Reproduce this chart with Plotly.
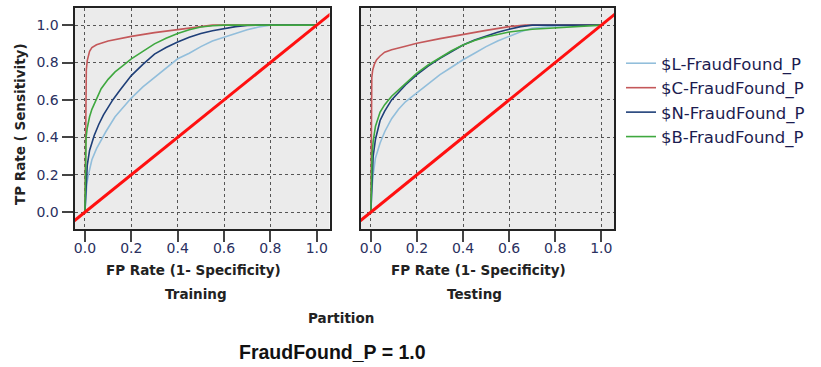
import plotly.graph_objects as go

W, H = 821, 367

# ---------------- data ----------------
series_names = ["$L-FraudFound_P", "$C-FraudFound_P", "$N-FraudFound_P", "$B-FraudFound_P"]
series_colors = ["#92bedb", "#c4585a", "#1f3f78", "#3fa83f"]

# Training partition
train_L_fpr = [0, 0.008, 0.015, 0.03, 0.05, 0.09, 0.13, 0.2, 0.25, 0.3, 0.35, 0.4, 0.45, 0.5, 0.55, 0.6, 0.65, 0.7, 0.75, 0.8, 1.0]
train_L_tpr = [0, 0.15, 0.2, 0.28, 0.34, 0.43, 0.51, 0.61, 0.67, 0.72, 0.77, 0.82, 0.85, 0.885, 0.915, 0.935, 0.955, 0.975, 0.99, 1.0, 1.0]

train_C_fpr = [0, 0.003, 0.006, 0.01, 0.015, 0.02, 0.03, 0.05, 0.1, 0.2, 0.3, 0.4, 0.5, 0.55, 1.0]
train_C_tpr = [0, 0.6, 0.76, 0.81, 0.84, 0.86, 0.88, 0.895, 0.915, 0.94, 0.96, 0.975, 0.992, 1.0, 1.0]

train_N_fpr = [0, 0.005, 0.01, 0.02, 0.04, 0.06, 0.08, 0.1, 0.12, 0.15, 0.2, 0.25, 0.3, 0.35, 0.4, 0.45, 0.5, 0.55, 0.6, 0.65, 0.7, 0.75, 1.0]
train_N_tpr = [0, 0.18, 0.25, 0.33, 0.41, 0.47, 0.52, 0.56, 0.6, 0.65, 0.73, 0.79, 0.845, 0.88, 0.91, 0.935, 0.955, 0.97, 0.982, 0.992, 0.998, 1.0, 1.0]

train_B_fpr = [0, 0.002, 0.005, 0.01, 0.02, 0.03, 0.05, 0.07, 0.1, 0.13, 0.16, 0.2, 0.25, 0.3, 0.35, 0.4, 0.45, 0.5, 0.55, 0.6, 1.0]
train_B_tpr = [0, 0.3, 0.4, 0.45, 0.51, 0.55, 0.61, 0.66, 0.71, 0.75, 0.78, 0.82, 0.86, 0.9, 0.93, 0.955, 0.975, 0.99, 0.997, 1.0, 1.0]

# Testing partition
test_L_fpr = [0, 0.003, 0.01, 0.02, 0.04, 0.06, 0.09, 0.12, 0.15, 0.2, 0.25, 0.3, 0.35, 0.4, 0.45, 0.5, 0.55, 0.6, 0.65, 0.7, 0.8, 0.9, 1.0]
test_L_tpr = [0, 0.1, 0.2, 0.29, 0.37, 0.43, 0.5, 0.55, 0.59, 0.64, 0.69, 0.735, 0.775, 0.815, 0.85, 0.885, 0.915, 0.94, 0.965, 0.983, 0.995, 0.998, 1.0]

test_C_fpr = [0, 0.002, 0.004, 0.008, 0.015, 0.025, 0.04, 0.06, 0.09, 0.15, 0.2, 0.3, 0.4, 0.5, 0.6, 0.67, 1.0]
test_C_tpr = [0, 0.4, 0.72, 0.76, 0.79, 0.815, 0.835, 0.855, 0.868, 0.887, 0.903, 0.928, 0.952, 0.972, 0.992, 1.0, 1.0]

test_N_fpr = [0, 0.002, 0.005, 0.01, 0.02, 0.04, 0.06, 0.09, 0.12, 0.15, 0.2, 0.25, 0.3, 0.35, 0.4, 0.45, 0.5, 0.55, 0.6, 0.65, 0.7, 1.0]
test_N_tpr = [0, 0.05, 0.2, 0.3, 0.39, 0.49, 0.54, 0.6, 0.64, 0.68, 0.735, 0.782, 0.823, 0.86, 0.894, 0.92, 0.943, 0.962, 0.978, 0.992, 1.0, 1.0]

test_B_fpr = [0, 0.002, 0.005, 0.01, 0.02, 0.04, 0.06, 0.09, 0.12, 0.15, 0.2, 0.25, 0.3, 0.35, 0.4, 0.45, 0.5, 0.55, 0.6, 0.7, 0.8, 0.9, 1.0]
test_B_tpr = [0, 0.2, 0.3, 0.38, 0.46, 0.535, 0.575, 0.62, 0.655, 0.69, 0.743, 0.788, 0.826, 0.863, 0.894, 0.918, 0.937, 0.952, 0.963, 0.978, 0.986, 0.993, 1.0]

# reference diagonal
diag = [-0.05, 1.06]

tick_vals = [0, 0.2, 0.4, 0.6, 0.8, 1.0]
tick_text = ["0.0", "0.2", "0.4", "0.6", "0.8", "1.0"]

partition_labels = ["Training", "Testing"]
x_title = "FP Rate (1- Specificity)"
y_title = "TP Rate ( Sensitivity)"
outer_title = "Partition"
panel_title = "FraudFound_P = 1.0"

train = [(train_L_fpr, train_L_tpr), (train_C_fpr, train_C_tpr), (train_N_fpr, train_N_tpr), (train_B_fpr, train_B_tpr)]
test = [(test_L_fpr, test_L_tpr), (test_C_fpr, test_C_tpr), (test_N_fpr, test_N_tpr), (test_B_fpr, test_B_tpr)]

# ---------------- figure ----------------
fig = go.Figure()

for i, (fx, ty) in enumerate(train):
    fig.add_trace(go.Scatter(x=fx, y=ty, mode="lines", name=series_names[i],
                             line=dict(color=series_colors[i], width=1.6),
                             legendgroup=series_names[i], xaxis="x", yaxis="y"))
fig.add_trace(go.Scatter(x=diag, y=diag, mode="lines", showlegend=False,
                         line=dict(color="#ff1010", width=3), xaxis="x", yaxis="y"))
for i, (fx, ty) in enumerate(test):
    fig.add_trace(go.Scatter(x=fx, y=ty, mode="lines", name=series_names[i],
                             line=dict(color=series_colors[i], width=1.6),
                             legendgroup=series_names[i], showlegend=False,
                             xaxis="x2", yaxis="y2"))
fig.add_trace(go.Scatter(x=diag, y=diag, mode="lines", showlegend=False,
                         line=dict(color="#ff1010", width=3), xaxis="x2", yaxis="y2"))

tick_font = dict(family="DejaVu Sans", size=14, color="#2a3060")
common_axis = dict(
    tickvals=tick_vals, ticktext=tick_text, tickfont=tick_font,
    showline=True, linecolor="#222222", linewidth=2, mirror=True,
    ticks="outside", ticklen=11, tickwidth=2, tickcolor="#444444",
    showgrid=True, gridcolor="#555555", gridwidth=1, griddash="3px,3px",
    zeroline=False, fixedrange=True,
)
xr = [-0.045, 1.055]
yr = [-0.09, 1.09]
ydom = [1 - 229 / H, 1 - 8.3 / H]

fig.update_layout(
    width=W, height=H,
    margin=dict(l=0, r=0, t=0, b=0),
    paper_bgcolor="white", plot_bgcolor="#ebebeb",
    xaxis=dict(domain=[74.5 / W, 329.5 / W], range=xr, anchor="y", ticklabelstandoff=-6, **common_axis),
    yaxis=dict(domain=ydom, range=yr, anchor="x", **common_axis),
    xaxis2=dict(domain=[360.5 / W, 614 / W], range=xr, anchor="y2", ticklabelstandoff=-6, **common_axis),
    yaxis2=dict(domain=ydom, range=yr, anchor="x2", **{**common_axis, "showticklabels": False, "ticks": ""}),
    legend=dict(x=621 / W, y=1 - 46 / H, xanchor="left", yanchor="top",
                font=dict(family="DejaVu Sans", size=16.5, color="#1c1c50"),
                bgcolor="rgba(0,0,0,0)", borderwidth=0, tracegroupgap=0),
    showlegend=True,
)

title_font = dict(family="DejaVu Sans", size=13.5, color="#222222")
ann = []
ann.append(dict(text="<b>%s</b>" % x_title, x=193 / W, y=1 - 270 / H, font=title_font))
ann.append(dict(text="<b>%s</b>" % partition_labels[0], x=196 / W, y=1 - 294 / H, font=title_font))
ann.append(dict(text="<b>%s</b>" % x_title, x=478 / W, y=1 - 270 / H, font=title_font))
ann.append(dict(text="<b>%s</b>" % partition_labels[1], x=475 / W, y=1 - 294 / H, font=title_font))
ann.append(dict(text="<b>%s</b>" % outer_title, x=340.5 / W, y=1 - 318 / H, font=title_font))
ann.append(dict(text="<b>%s</b>" % panel_title, x=332.5 / W, y=1 - 352 / H,
                font=dict(family="Liberation Sans", size=19.5, color="#111111")))
ann.append(dict(text="<b>%s</b>" % y_title, x=20 / W, y=1 - 124 / H, textangle=-90, font=title_font))
for a in ann:
    a.update(xref="paper", yref="paper", showarrow=False, xanchor="center", yanchor="middle")
fig.update_layout(annotations=ann)

fig.write_html("out.html")
